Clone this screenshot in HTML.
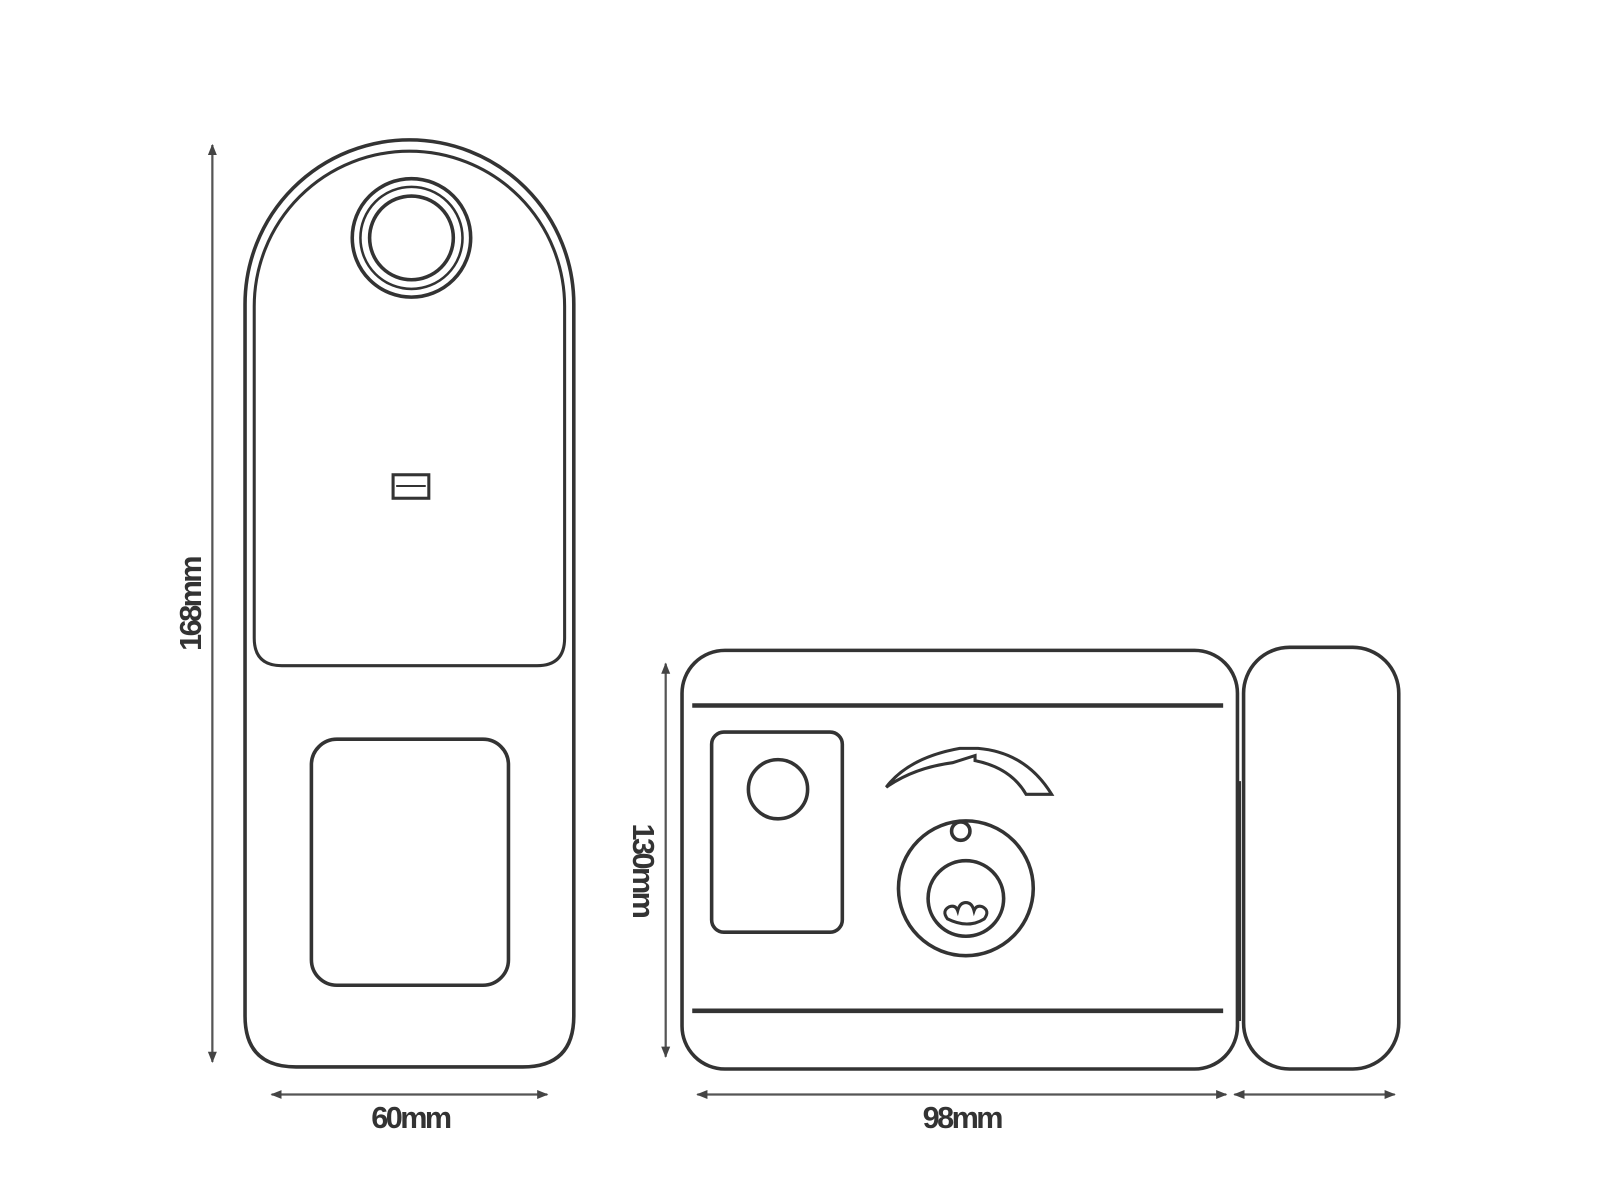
<!DOCTYPE html>
<html><head><meta charset="utf-8"><style>html,body{margin:0;padding:0;background:#fff}svg{display:block}</style></head>
<body>
<svg width="1600" height="1200" viewBox="0 0 1600 1200" xmlns="http://www.w3.org/2000/svg">
<defs>
<marker id="ah" viewBox="0 0 10 10" refX="9" refY="5" markerWidth="11" markerHeight="11" markerUnits="userSpaceOnUse" orient="auto-start-reverse"><path d="M0,1 L10,5 L0,9 z" fill="#444"/></marker>
</defs>
<g transform="scale(1.021)">
<g fill="none" stroke="#333" stroke-width="3.5">
<!-- left device -->
<path d="M240,298 A161,161 0 0 1 562,298 L562,995 Q562,1045 512,1045 L290,1045 Q240,1045 240,995 Z"/>
<path d="M249,300 A152,152 0 0 1 553,300 L553,625 Q553,652 526,652 L276,652 Q249,652 249,625 Z" stroke-width="3"/>
<circle cx="403" cy="233" r="58"/>
<circle cx="403" cy="233" r="50" stroke-width="2.5"/>
<circle cx="403" cy="233" r="41"/>
<rect x="385" y="465" width="35" height="23" stroke-width="3"/>
<line x1="388" y1="476" x2="417" y2="476" stroke-width="2"/>
<rect x="305" y="724" width="193" height="241" rx="25"/>
<!-- right device -->
<rect x="668" y="637" width="544" height="410" rx="42"/>
<line x1="678" y1="691" x2="1198" y2="691" stroke-width="4.5"/>
<line x1="678" y1="990" x2="1198" y2="990" stroke-width="4.5"/>
<rect x="697" y="717" width="128" height="196" rx="12"/>
<circle cx="762" cy="773" r="29"/>
<circle cx="946" cy="870" r="66"/>
<circle cx="946" cy="880" r="37"/>
<circle cx="941" cy="814" r="9"/>
<path d="M928,900 q-6,-8 2,-12 q6,-2 8,4 q2,-8 8,-8 q6,0 8,8 q2,-6 8,-4 q8,4 2,12 q-16,10 -36,0 z" stroke-width="3"/>
<path d="M868,771 Q890,742 940,733 L958,733 Q1005,737 1030,778 L1005,778 Q990,752 955,745 L955,740 L933,747 Q895,752 868,771 Z" stroke-width="3"/>
<rect x="1218" y="634" width="152" height="413" rx="45"/>
<line x1="1214" y1="765" x2="1214" y2="1000" stroke-width="3"/>
</g>
<!-- dimension lines -->
<g stroke="#555" stroke-width="2.2" fill="none">
<line x1="208" y1="142" x2="208" y2="1040" marker-start="url(#ah)" marker-end="url(#ah)"/>
<line x1="652" y1="650" x2="652" y2="1035" marker-start="url(#ah)" marker-end="url(#ah)"/>
<line x1="266" y1="1072" x2="536" y2="1072" marker-start="url(#ah)" marker-end="url(#ah)"/>
<line x1="683" y1="1072" x2="1201" y2="1072" marker-start="url(#ah)" marker-end="url(#ah)"/>
<line x1="1209" y1="1072" x2="1366" y2="1072" marker-start="url(#ah)" marker-end="url(#ah)"/>
</g>
<g font-family="Liberation Sans, sans-serif" font-size="30" font-weight="bold" fill="#333" text-anchor="middle" letter-spacing="-2.5">
<text x="402" y="1105">60mm</text>
<text x="942" y="1105">98mm</text>
<text transform="translate(197,592) rotate(-90)">168mm</text>
<text transform="translate(620,852) rotate(90)">130mm</text>
</g>
</g>
</svg>
</body></html>
